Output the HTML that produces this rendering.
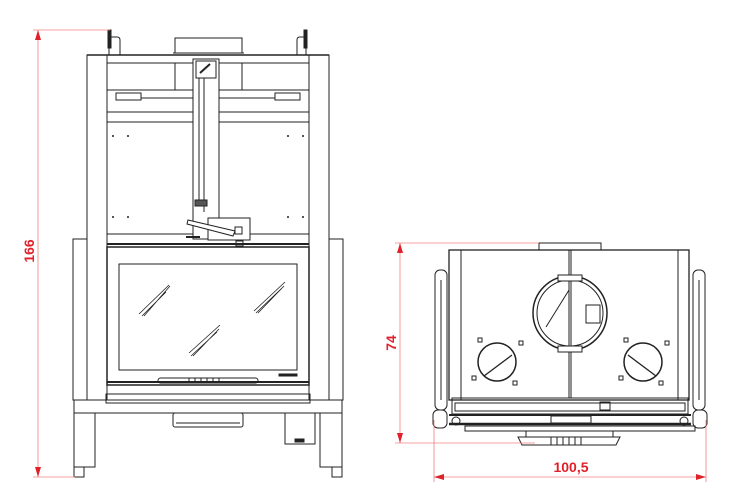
<!DOCTYPE html>
<html><head><meta charset="utf-8"><style>
html,body{margin:0;padding:0;background:#fff;}
svg{display:block;}
</style></head><body>
<svg width="750" height="500" viewBox="0 0 750 500" xmlns="http://www.w3.org/2000/svg">
<g fill="none" stroke="#222" stroke-width="1">
<!-- LEFT VIEW -->
<!-- handles -->
<path d="M109 55 V40 Q109 37 112 37 H117 Q120 37 120 40 V55"/>
<rect x="108" y="30" width="3" height="18" fill="#222"/>
<path d="M297 55 V40 Q297 37 300 37 H303 Q306 37 306 40 V55"/>
<rect x="304" y="30" width="3" height="18" fill="#222"/>
<rect x="175" y="38" width="67" height="15"/>
<line x1="173" y1="53" x2="244" y2="53"/>
<!-- frame -->
<line x1="87" y1="55" x2="329" y2="55" stroke-width="1.5"/>
<rect x="87" y="55" width="20" height="345"/>
<rect x="309" y="55" width="20" height="345"/>
<line x1="107" y1="63" x2="309" y2="63"/>
<line x1="107" y1="90" x2="309" y2="90"/>
<line x1="175" y1="63" x2="175" y2="90"/>
<line x1="242" y1="63" x2="242" y2="90"/>
<line x1="107" y1="112" x2="309" y2="112"/>
<line x1="107" y1="122" x2="309" y2="122"/>
<rect x="116" y="93" width="25" height="7"/>
<rect x="275" y="93" width="25" height="7"/>
<line x1="141" y1="98" x2="275" y2="98"/>
<line x1="107" y1="234" x2="309" y2="234"/>
<line x1="107" y1="244" x2="309" y2="244" stroke-width="2"/>
<!-- column -->
<rect x="193" y="59" width="26" height="180" fill="#fff"/>
<rect x="196" y="61" width="20" height="17"/>
<line x1="199" y1="78" x2="199" y2="200"/>
<line x1="204" y1="78" x2="204" y2="212"/>
<path d="M200 73 L210 64" stroke-width="2"/>
<rect x="195" y="200" width="12" height="6" fill="#555"/>
<rect x="208" y="218" width="42" height="22" fill="#fff"/>
<path d="M188 220 L235 231 L233 236 L187 224 Z" fill="#fff"/>
<rect x="235" y="227" width="7" height="7" fill="#fff"/>
<line x1="186" y1="237" x2="200" y2="237" stroke-width="2"/>
<rect x="236" y="241" width="7" height="5"/>
<!-- side panels -->
<rect x="73" y="239" width="14" height="161"/>
<rect x="329" y="239" width="14" height="161"/>
<!-- door -->
<rect x="107" y="247" width="202" height="138" stroke-width="1.5"/>
<rect x="119" y="264" width="178" height="106"/>
<line x1="107" y1="382" x2="309" y2="382" stroke-width="2"/>
<rect x="158" y="378" width="100" height="5" rx="2.5"/>
<line x1="189" y1="378" x2="189" y2="383"/><line x1="195" y1="378" x2="195" y2="383"/>
<line x1="201" y1="378" x2="201" y2="383"/><line x1="207" y1="378" x2="207" y2="383"/>
<line x1="213" y1="378" x2="213" y2="383"/><line x1="219" y1="378" x2="219" y2="383"/>
<rect x="279" y="374" width="18" height="2" fill="#222"/>
<g stroke-width="0.8">
<path d="M139 314 L169 285 M142 316 L166 292 M144 316 L170 286"/>
<path d="M254 311 L285 282 M256 313 L282 288 M258 313 L284 286"/>
<path d="M189 353 L220 325 M191 356 L217 332 M193 356 L219 329"/>
</g>
<!-- base -->
<rect x="106" y="394" width="204" height="9"/>
<rect x="74" y="400" width="268" height="13"/>
<rect x="74" y="413" width="21" height="54"/>
<rect x="320" y="413" width="22" height="54"/>
<rect x="74" y="467" width="10" height="10"/>
<rect x="332" y="467" width="10" height="10"/>
<rect x="173" y="413" width="70" height="14" rx="2"/>
<line x1="176" y1="423" x2="240" y2="423"/>
<rect x="285" y="413" width="30" height="31"/>
<rect x="295" y="439" width="9" height="3" fill="#222"/>
<!-- dots -->
<g fill="#222" stroke="none">
<circle cx="113" cy="136" r="1"/><circle cx="128" cy="136" r="1"/><circle cx="288" cy="136" r="1"/><circle cx="303" cy="136" r="1"/>
<circle cx="113" cy="217" r="1"/><circle cx="128" cy="217" r="1"/><circle cx="288" cy="217" r="1"/><circle cx="303" cy="217" r="1"/>
</g>

<!-- RIGHT VIEW -->
<rect x="539" y="243" width="62" height="7"/>
<rect x="449" y="250" width="240" height="150" stroke-width="1.3"/>
<rect x="449" y="250" width="12" height="150"/>
<rect x="678" y="250" width="11" height="150"/>
<rect x="435" y="270" width="12" height="140" rx="5"/>
<rect x="693" y="270" width="12" height="140" rx="5"/>
<line x1="441" y1="280" x2="441" y2="400"/>
<line x1="699" y1="280" x2="699" y2="400"/>
<line x1="569" y1="250" x2="569" y2="398"/>
<line x1="571" y1="250" x2="571" y2="398"/>
<circle cx="570" cy="313" r="37" stroke-width="1.5"/>
<circle cx="570" cy="313" r="33"/>
<rect x="558" y="275" width="24" height="6" fill="#fff"/>
<rect x="558" y="346" width="24" height="6" fill="#fff"/>
<path d="M546 327 L569 290"/>
<rect x="586" y="305" width="14" height="18"/>
<circle cx="497" cy="362" r="19" stroke-width="1.5"/>
<line x1="484" y1="376" x2="512" y2="355" stroke-width="1.3"/>
<circle cx="643" cy="362" r="19" stroke-width="1.5"/>
<line x1="628" y1="355" x2="656" y2="376" stroke-width="1.3"/>
<rect x="478" y="338" width="4" height="4"/><rect x="519" y="341" width="4" height="4"/>
<rect x="472" y="376" width="4" height="4"/><rect x="513" y="381" width="4" height="4"/>
<rect x="624" y="338" width="4" height="4"/><rect x="665" y="341" width="4" height="4"/>
<rect x="619" y="376" width="4" height="4"/><rect x="659" y="381" width="4" height="4"/>
<rect x="452" y="398" width="236" height="16"/>
<rect x="455" y="403" width="230" height="8"/>
<rect x="600" y="402" width="10" height="8"/>
<line x1="449" y1="415" x2="691" y2="415" stroke-width="2"/>
<line x1="449" y1="424" x2="691" y2="424" stroke-width="2.5"/>
<rect x="433" y="410" width="14" height="18" rx="5"/>
<rect x="693" y="410" width="14" height="18" rx="5"/>
<circle cx="456" cy="421" r="4"/><circle cx="684" cy="421" r="4"/>
<rect x="551" y="416" width="40" height="7" fill="#fff"/>
<rect x="465" y="426" width="230" height="5"/>
<path d="M518 437 L620 437 L616 445 L522 445 Z"/>
<line x1="526" y1="431" x2="526" y2="437"/><line x1="613" y1="431" x2="613" y2="437"/>
<line x1="551" y1="437" x2="551" y2="445"/><line x1="557" y1="437" x2="557" y2="445"/>
<line x1="563" y1="437" x2="563" y2="445"/><line x1="569" y1="437" x2="569" y2="445"/>
<line x1="575" y1="437" x2="575" y2="445"/><line x1="581" y1="437" x2="581" y2="445"/>
</g>

<!-- DIMENSIONS -->
<g stroke="#f08080" stroke-width="0.8" fill="none">
<line x1="33" y1="30" x2="110" y2="30"/>
<line x1="38" y1="30" x2="38" y2="477"/>
<line x1="33" y1="477" x2="75" y2="477"/>
<line x1="395" y1="243" x2="539" y2="243"/>
<line x1="400" y1="243" x2="400" y2="443"/>
<line x1="395" y1="443" x2="535" y2="443"/>
<line x1="434" y1="420" x2="434" y2="482"/>
<line x1="706" y1="420" x2="706" y2="482"/>
<line x1="434" y1="477" x2="706" y2="477"/>
</g>
<g fill="#e0202a">
<path d="M38 30 L35 40 L41 40 Z"/><path d="M38 477 L35 467 L41 467 Z"/>
<path d="M400 243 L397 253 L403 253 Z"/><path d="M400 443 L397 433 L403 433 Z"/>
<path d="M434 477 L444 474 L444 480 Z"/><path d="M706 477 L696 474 L696 480 Z"/>
</g>
<g fill="#e0202a" font-family="Liberation Sans, sans-serif" font-weight="bold" font-size="14">
<text transform="translate(34,251) rotate(-90)" text-anchor="middle">166</text>
<text transform="translate(396,343) rotate(-90)" text-anchor="middle">74</text>
<text x="571" y="472" text-anchor="middle">100,5</text>
</g>
</svg>
</body></html>
